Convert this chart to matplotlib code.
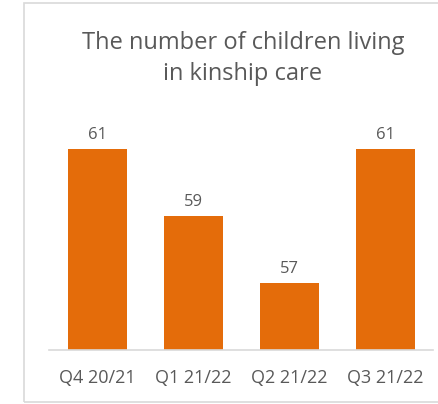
import matplotlib
matplotlib.use("Agg")
import matplotlib.pyplot as plt
from matplotlib.patches import Rectangle

quarters = ["Q4 20/21", "Q1 21/22", "Q2 21/22", "Q3 21/22"]
children = [61, 59, 57, 61]
title_lines = ["The number of children living", "in kinship care"]

bar_color = "#E46C0A"
text_color = "#595959"
line_color = "#D9D9D9"

plt.rcParams["font.family"] = ["Open Sans", "DejaVu Sans"]

fig = plt.figure(figsize=(4.39, 4.04), dpi=100)
W, H = 439, 404

# chart frame
fig.patches.append(Rectangle((24 / W, 1 - 402 / H), (450 - 24) / W, (402 - 3) / H,
                             transform=fig.transFigure, fill=False,
                             edgecolor=line_color, linewidth=1.2))

ax = fig.add_axes([49.5 / W, 1 - 350 / H, 384 / W, (350 - 115.5) / H])
x = range(len(quarters))
bars = ax.bar(x, [v - 55 for v in children], bottom=55, width=0.615, color=bar_color)
ax.set_xlim(-0.5, 3.5)
ax.set_ylim(55, 62)

for xi, v in zip(x, children):
    ax.text(xi, v + 0.17, str(v), ha="center", va="bottom", fontsize=12, color=text_color)

ax.set_xticks(list(x))
ax.set_xticklabels(quarters, fontsize=13, color=text_color)
ax.tick_params(axis="x", length=0, pad=14)
ax.set_yticks([])
for s in ["top", "right", "left"]:
    ax.spines[s].set_visible(False)
ax.spines["bottom"].set_color(line_color)
ax.spines["bottom"].set_linewidth(1.2)

# two-line title
for line, base in zip(title_lines, [49, 80]):
    fig.text(243 / W, 1 - base / H, line, ha="center", va="baseline",
             fontsize=17, color=text_color)

fig.savefig("out.png", dpi=100)
